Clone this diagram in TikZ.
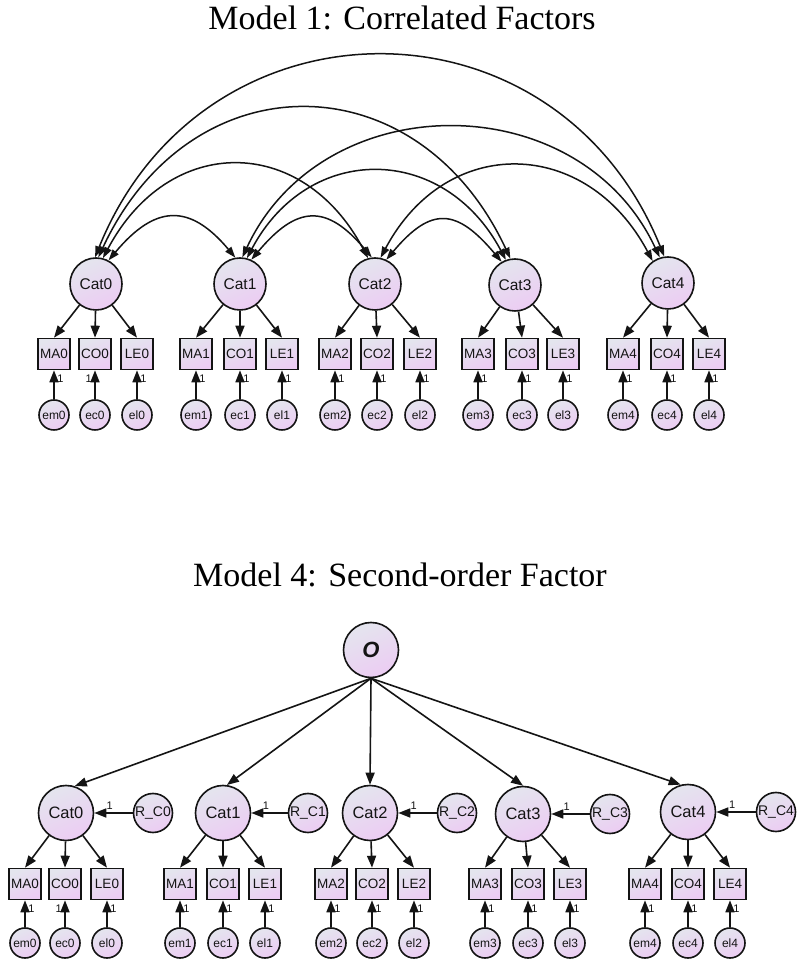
\documentclass[tikz,border=0pt]{standalone}
\usepackage{fontspec}
\setmainfont{Liberation Serif}
\newfontfamily\arialf{Liberation Sans}
\usetikzlibrary{arrows.meta}
\definecolor{gTop}{RGB}{228,229,238}
\definecolor{gBot}{RGB}{236,204,243}
\definecolor{ink}{RGB}{20,20,20}
\begin{document}
\begin{tikzpicture}[x=1pt,y=1pt,
  shadefill/.style={draw=ink, line width=1.6pt, top color=gTop, bottom color=gBot, shading angle=25, text=ink},
  lat/.style={circle, shadefill, minimum size=52pt, inner sep=0pt, font=\arialf\fontsize{15.5}{15.5}\selectfont},
  latb/.style={circle, shadefill, minimum size=55pt, inner sep=0pt, font=\arialf\fontsize{16.5}{16.5}\selectfont},
  obs/.style={rectangle, shadefill, minimum width=32pt, minimum height=31pt, inner sep=0pt, font=\arialf\fontsize{13.5}{13.5}\selectfont},
  err/.style={circle, shadefill, minimum size=30pt, inner sep=0pt, font=\arialf\fontsize{12}{12}\selectfont},
  res/.style={circle, shadefill, minimum size=39pt, inner sep=0pt, font=\arialf\fontsize{14}{14}\selectfont},
  arr/.style={-{Triangle[length=12pt,width=9pt]}, line width=1.6pt, draw=ink},
  cov/.style={{Triangle[length=11pt,width=7.5pt]}-{Triangle[length=11pt,width=7.5pt]}, line width=1.5pt, draw=ink},
  one/.style={font=\arialf\fontsize{11}{11}\selectfont, inner sep=1pt, text=ink},
  ttl/.style={font=\fontsize{34}{40}\selectfont, inner sep=0pt}
]
\fill[white] (0,0) rectangle (800,974);
\useasboundingbox (0,0) rectangle (800,974);

% ---------------- Model 1 ----------------
\node[ttl] (t1) at (402,956) {Model 1: Correlated Factors};

\node[lat] (c0) at (96,690) {Cat0};
\node[lat] (c1) at (240,690) {Cat1};
\node[lat] (c2) at (375,690) {Cat2};
\node[lat] (c3) at (515,689) {Cat3};
\node[lat] (c4) at (668,691) {Cat4};

\foreach \i/\a/\b/\c in {0/54/95/137,1/196/240/282,2/335/377/420,3/478/522/563,4/623/667/709}{
  \node[obs] (ma\i) at (\a,620) {MA\i};
  \node[obs] (co\i) at (\b,620) {CO\i};
  \node[obs] (le\i) at (\c,620) {LE\i};
  \node[err] (em\i) at (\a,559) {em\i};
  \node[err] (ec\i) at (\b,559) {ec\i};
  \node[err] (el\i) at (\c,559) {el\i};
  \draw[arr] (c\i) -- (ma\i.north);
  \draw[arr] (c\i) -- (co\i.north);
  \draw[arr] (c\i) -- (le\i.north);
  \draw[arr] (em\i) -- (ma\i) node[one,pos=.7,right,xshift=1.5pt]{1};
  \draw[arr] (el\i) -- (le\i) node[one,pos=.7,right,xshift=1.5pt]{1};
}
\foreach \i in {1,2,3,4}{
  \draw[arr] (ec\i) -- (co\i) node[one,pos=.7,right,xshift=1.5pt]{1};
}
\draw[arr] (ec0) -- (co0) node[one,pos=.7,left,xshift=-1.5pt]{1};

% covariances
\draw[cov] (c0.62) to[out=50,in=130,looseness=1.45] (c1.100);
\draw[cov] (c0.75) to[out=62,in=118,looseness=1.36] (c2.105);
\draw[cov] (c0.85) to[out=65,in=115,looseness=1.36] (c3.100);
\draw[cov] (c0.92) to[out=68,in=112,looseness=1.3] (c4.98);
\draw[cov] (c1.65) to[out=50,in=130,looseness=1.5] (c2.97);
\draw[cov] (c1.75) to[out=62,in=118,looseness=1.3] (c3.110);
\draw[cov] (c1.85) to[out=65,in=115,looseness=1.17] (c4.108);
\draw[cov] (c2.65) to[out=50,in=130,looseness=1.55] (c3.120);
\draw[cov] (c2.78) to[out=62,in=118,looseness=1.32] (c4.125);

% ---------------- Model 4 ----------------
\node[ttl] (t2) at (400,399) {Model 4: Second-order Factor};

\node[latb, font=\arialf\bfseries\itshape\fontsize{22}{22}\selectfont] (o) at (371,324) {O};

\node[latb] (cb0) at (66,161) {Cat0};
\node[latb] (cb1) at (223,161) {Cat1};
\node[latb] (cb2) at (370,161) {Cat2};
\node[latb] (cb3) at (523,160) {Cat3};
\node[latb] (cb4) at (688,162) {Cat4};

\node[res] (rc0) at (153,161) {R\_C0};
\node[res] (rc1) at (308,161) {R\_C1};
\node[res] (rc2) at (457,161) {R\_C2};
\node[res] (rc3) at (610,160) {R\_C3};
\node[res] (rc4) at (776,162) {R\_C4};

\draw[arr] (o.south) -- (cb0.72);
\draw[arr] (o.south) -- (cb1.82);
\draw[arr] (o.south) -- (cb2.north);
\draw[arr] (o.south) -- (cb3.north);
\draw[arr] (o.south) -- (cb4.105);

\foreach \i in {0,1,2,3,4}{
  \draw[arr] (rc\i) -- (cb\i) node[one,pos=.6,above,yshift=1.5pt]{1};
}

\foreach \i/\a/\b/\c in {0/25/65/107,1/180/223/265,2/331/372/414,3/485/528/570,4/645/688/730}{
  \node[obs] (mb\i) at (\a,90) {MA\i};
  \node[obs] (cob\i) at (\b,90) {CO\i};
  \node[obs] (lb\i) at (\c,90) {LE\i};
  \node[err] (emb\i) at (\a,31) {em\i};
  \node[err] (ecb\i) at (\b,31) {ec\i};
  \node[err] (elb\i) at (\c,31) {el\i};
  \draw[arr] (cb\i) -- (mb\i.north);
  \draw[arr] (cb\i) -- (cob\i.north);
  \draw[arr] (cb\i) -- (lb\i.north);
  \draw[arr] (emb\i) -- (mb\i) node[one,pos=.7,right,xshift=1.5pt]{1};
  \draw[arr] (elb\i) -- (lb\i) node[one,pos=.7,right,xshift=1.5pt]{1};
}
\foreach \i in {1,2,3,4}{
  \draw[arr] (ecb\i) -- (cob\i) node[one,pos=.7,right,xshift=1.5pt]{1};
}
\draw[arr] (ecb0) -- (cob0) node[one,pos=.7,left,xshift=-1.5pt]{1};
\end{tikzpicture}
\end{document}
